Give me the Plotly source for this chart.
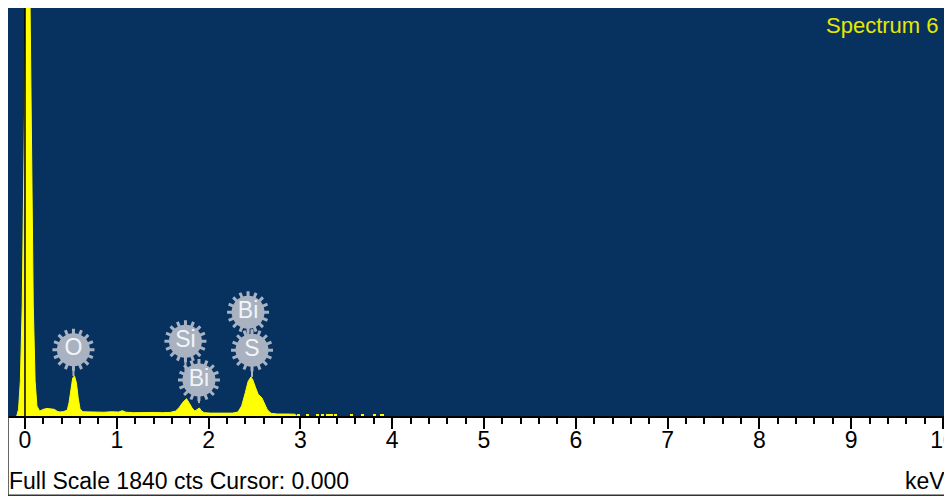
import plotly.graph_objects as go

# Spectrum trace (energy in keV, counts)
energy_keV = [-0.09, -0.07, -0.05, -0.03, -0.01, 0.01, 0.03, 0.05, 0.07, 0.09, 0.11, 0.13,
              0.16, 0.20, 0.24, 0.28, 0.32, 0.35, 0.38, 0.42, 0.46, 0.48, 0.50, 0.52, 0.54,
              0.56, 0.58, 0.60, 0.63, 0.70, 0.78, 0.86, 0.94, 1.02, 1.06, 1.10, 1.18, 1.26,
              1.34, 1.42, 1.50, 1.58, 1.64, 1.68, 1.72, 1.76, 1.79, 1.82, 1.85, 1.88, 1.90,
              1.92, 1.95, 2.02, 2.10, 2.18, 2.26, 2.32, 2.36, 2.40, 2.43, 2.46, 2.48, 2.51,
              2.54, 2.58, 2.61, 2.64, 2.68, 2.75, 2.85, 2.94, 2.96]
counts = [0, 30, 160, 500, 1200, 2060, 2600, 2060, 1200, 500, 160, 45,
          22, 30, 34, 33, 30, 21, 18, 20, 26, 60, 125, 172, 180,
          150, 80, 32, 19, 18, 20, 17, 19, 18, 24, 17, 15, 16,
          14, 16, 15, 16, 22, 38, 62, 78, 58, 36, 22, 30, 36,
          24, 15, 13, 14, 12, 13, 18, 45, 105, 155, 176, 165, 130,
          98, 82, 55, 28, 12, 9, 9, 8, 0]

# sparse channels in the tail
tail_energy_keV = [2.98, 3.08, 3.19, 3.24, 3.30, 3.34, 3.38, 3.56, 3.68, 3.81, 3.89]
tail_counts = [8, 8, 7, 8, 8, 7, 8, 8, 7, 8, 7]

# Element labels
label_text = ["O", "Si", "Bi", "Bi", "S"]
label_energy = [0.528, 1.748, 1.895, 2.43, 2.473]
label_counts = [299, 337, 162, 468, 297]
stem_end_counts = [180, 162, 58, 297, 176]

full_scale = 1840
x_range = [-0.185, 10.098]
tick_vals = [0, 1, 2, 3, 4, 5, 6, 7, 8, 9, 10]
tick_text = ["0", "1", "2", "3", "4", "5", "6", "7", "8", "9", "10"]

FONT = "Liberation Sans, Arial, sans-serif"
NAVY = "#07325f"
YELLOW = "#ffff00"
GRAY = "#a9b2c1"

fig = go.Figure()
fig.add_trace(go.Scatter(x=energy_keV, y=counts, mode="lines", fill="tozeroy",
                         line=dict(color=YELLOW, width=1), fillcolor=YELLOW,
                         hoverinfo="skip", showlegend=False))
fig.add_trace(go.Bar(x=tail_energy_keV, y=tail_counts, width=0.035,
                     marker=dict(color=YELLOW, line=dict(width=0)),
                     hoverinfo="skip", showlegend=False))

# stems
for e, c0, c1 in zip(label_energy, label_counts, stem_end_counts):
    fig.add_trace(go.Scatter(x=[e, e], y=[c0, c1], mode="lines",
                             line=dict(color=GRAY, width=2),
                             hoverinfo="skip", showlegend=False))

# gear teeth (two rotated asterisks)
for ang in (0, 22.5):
    fig.add_trace(go.Scatter(x=label_energy, y=label_counts, mode="markers",
                             marker=dict(symbol="asterisk-open", size=35, angle=ang,
                                         color=GRAY,
                                         line=dict(color=GRAY, width=3)),
                             hoverinfo="skip", showlegend=False))
fig.add_trace(go.Scatter(x=label_energy, y=label_counts, mode="markers+text",
                         text=label_text, textposition="middle center",
                         textfont=dict(family=FONT, size=23, color="#f2f4f8"),
                         marker=dict(symbol="circle", size=33, color=GRAY,
                                     line=dict(width=0)),
                         hoverinfo="skip", showlegend=False))

fig.update_layout(
    width=944, height=489,
    margin=dict(l=0, r=0, t=0, b=81),
    paper_bgcolor="white", plot_bgcolor=NAVY,
    template="none",
    font=dict(family=FONT, size=23, color="black"),
    bargap=0,
    xaxis=dict(range=x_range, tickvals=tick_vals, ticktext=tick_text,
               showgrid=False, zeroline=False, showline=True,
               linecolor="black", linewidth=2,
               ticks="outside", ticklen=11, tickwidth=2, tickcolor="black",
               ticklabelstandoff=-9, ticklabeloverflow="allow",
               tickfont=dict(family=FONT, size=23, color="black"),
               minor=dict(dtick=0.2, tick0=0, ticks="outside", ticklen=6,
                          tickwidth=2, tickcolor="black", showgrid=False),
               automargin=False, fixedrange=True),
    yaxis=dict(range=[0, full_scale], visible=False, showgrid=False,
               zeroline=False, automargin=False, fixedrange=True),
    shapes=[
        dict(type="line", xref="x", yref="y", x0=0, x1=0, y0=0, y1=full_scale,
             line=dict(color="black", width=1.5)),
        dict(type="line", xref="paper", yref="paper", x0=0, x1=0, y0=-0.194, y1=0,
             line=dict(color="#333333", width=1.5)),
        dict(type="line", xref="paper", yref="paper", x0=0, x1=1.0, y0=-0.194, y1=-0.194,
             line=dict(color="#333333", width=1.5)),
    ],
    annotations=[
        dict(text="Full Scale %d cts Cursor: 0.000" % full_scale, xref="paper", yref="paper",
             x=0, y=-0.159, xanchor="left", yanchor="middle", xshift=-1,
             showarrow=False, font=dict(family=FONT, size=23, color="black")),
        dict(text="keV", xref="paper", yref="paper", x=0.9947, y=-0.159,
             xanchor="right", yanchor="middle", showarrow=False,
             font=dict(family=FONT, size=23, color="black")),
        dict(text="Spectrum 6", xref="paper", yref="paper", x=0.988, y=0.956,
             xanchor="right", yanchor="middle", showarrow=False,
             font=dict(family=FONT, size=22, color="#e8e800")),
    ],
)

fig.write_html("out.html")
